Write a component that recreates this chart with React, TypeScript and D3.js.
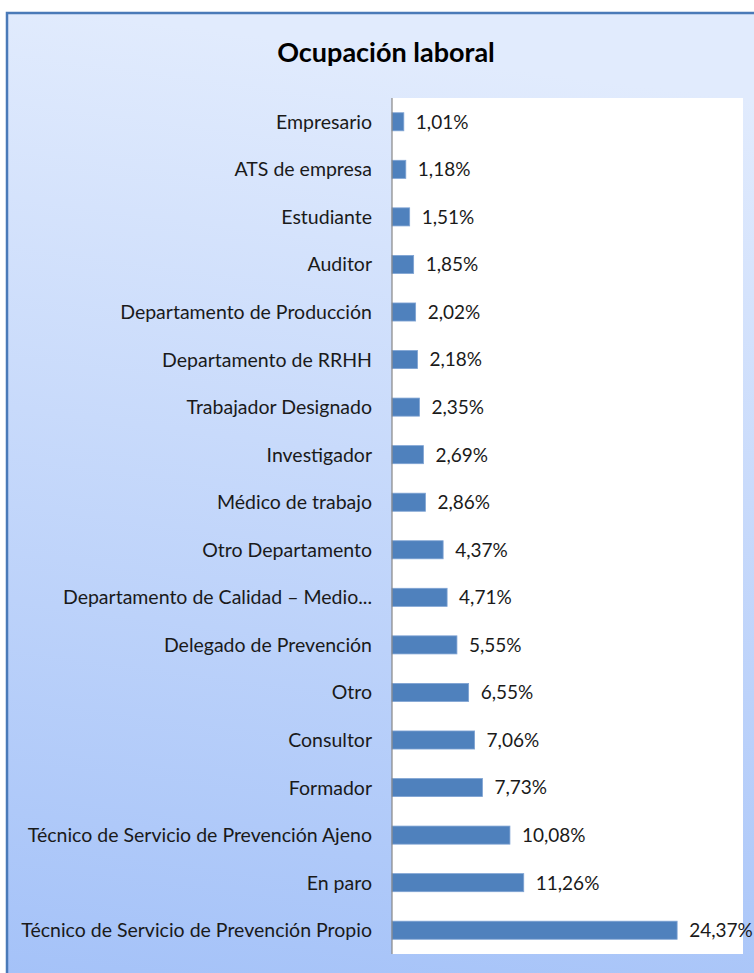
import React from "react";
import * as d3 from "d3";

const categories = [
  "Empresario",
  "ATS de empresa",
  "Estudiante",
  "Auditor",
  "Departamento de Producción",
  "Departamento de RRHH",
  "Trabajador Designado",
  "Investigador",
  "Médico de trabajo",
  "Otro Departamento",
  "Departamento de Calidad – Medio...",
  "Delegado de Prevención",
  "Otro",
  "Consultor",
  "Formador",
  "Técnico de Servicio de Prevención Ajeno",
  "En paro",
  "Técnico de Servicio de Prevención Propio",
];
const values = [
  1.01, 1.18, 1.51, 1.85, 2.02, 2.18, 2.35, 2.69, 2.86, 4.37, 4.71, 5.55, 6.55,
  7.06, 7.73, 10.08, 11.26, 24.37,
];
const xDomain = [0, 30];

const width = 754;
const height = 973;
const margins = { left: 392, right: 11, top: 98, bottom: 19 };
const font = "Lato, 'Open Sans', sans-serif";

export default function App() {
  const plotW = width - margins.left - margins.right;
  const plotH = height - margins.top - margins.bottom;

  const xScale = d3.scaleLinear().domain(xDomain).range([0, plotW]);
  const yScale = d3
    .scaleBand()
    .domain(categories)
    .range([0, plotH])
    .paddingInner(0.62)
    .paddingOuter(0.31);

  const fmt = (v: number) => v.toFixed(2).replace(".", ",") + "%";

  return (
    <svg
      width={width}
      height={height}
      style={{ position: "absolute", left: 0, top: 0, display: "block" }}
    >
      <defs>
        <linearGradient id="bg" x1="0.1" y1="0" x2="0" y2="1">
          <stop offset="0" stopColor="#e1ebfd" />
          <stop offset="1" stopColor="#a3c1f8" />
        </linearGradient>
      </defs>
      <rect x={0} y={0} width={width} height={height} fill="#ffffff" />
      <rect
        x={7}
        y={13}
        width={760}
        height={990}
        fill="url(#bg)"
        stroke="#4a7ab8"
        strokeWidth={2.5}
      />
      <text
        x={386}
        y={62}
        textAnchor="middle"
        fontFamily={font}
        fontWeight="bold"
        fontSize={27}
        fill="#000"
      >
        Ocupación laboral
      </text>
      <g transform={`translate(${margins.left},${margins.top})`}>
        <rect x={0} y={0} width={plotW} height={plotH} fill="#ffffff" />
        {categories.map((c, i) => {
          const y = yScale(c)!;
          const bw = yScale.bandwidth();
          const w = xScale(values[i]);
          return (
            <g key={c}>
              <rect
                x={0}
                y={y}
                width={w}
                height={bw}
                fill="#4f81bd"
                stroke="#7fa3d3"
                strokeWidth={0.8}
              />
              <text
                x={w + 12}
                y={y + bw / 2}
                dy="0.36em"
                fontFamily={font}
                fontSize={19}
                fill="#1a1a1a"
              >
                {fmt(values[i])}
              </text>
              <text
                x={-20}
                y={y + bw / 2}
                dy="0.36em"
                textAnchor="end"
                fontFamily={font}
                fontSize={19.5}
                fill="#1a1a1a"
              >
                {c}
              </text>
            </g>
          );
        })}
        <line x1={0} x2={0} y1={0} y2={plotH} stroke="#868686" strokeWidth={1.2} />
      </g>
    </svg>
  );
}
